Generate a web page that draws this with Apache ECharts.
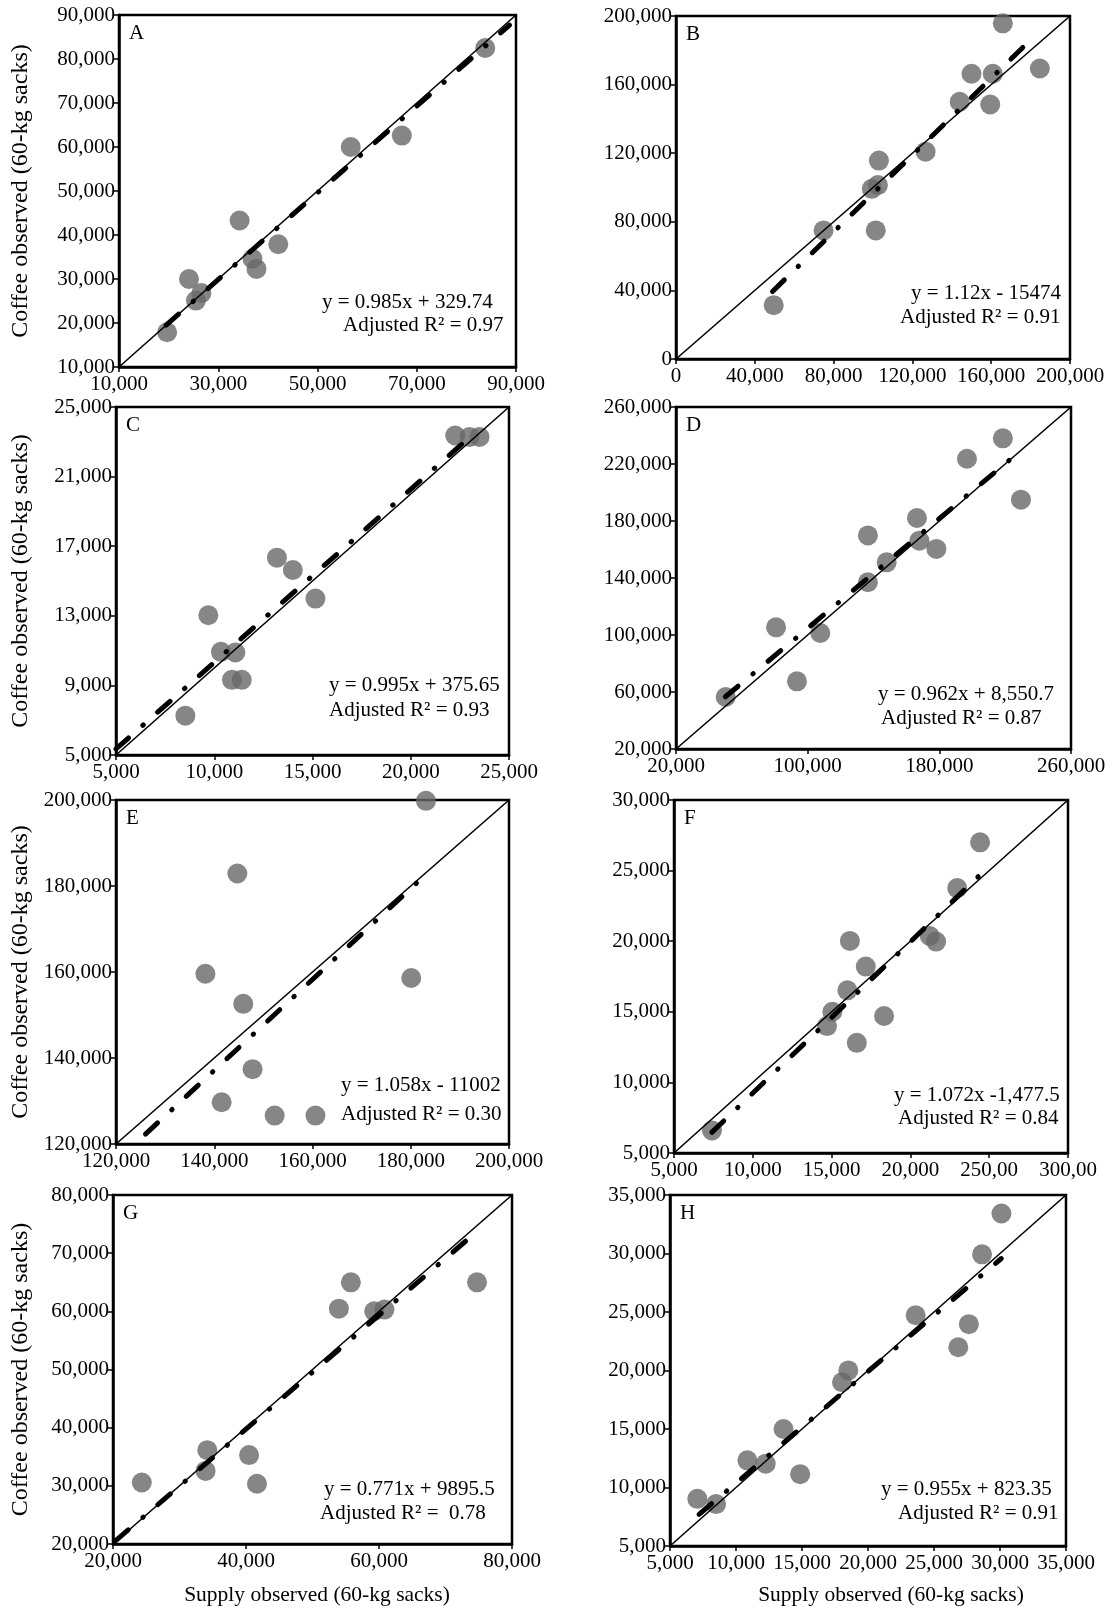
<!DOCTYPE html>
<html>
<head>
<meta charset="utf-8">
<script src="https://cdn.jsdelivr.net/npm/echarts@6/dist/echarts.min.js"></script>
<style>
html,body{margin:0;padding:0;background:#fff;}
#chart{width:1110px;height:1607px;}
</style>
</head>
<body>
<div id="chart"></div>
<script>
// ---------- data ----------
const panelLetters = ['A','B','C','D','E','F','G','H'];

const aX = [19700, 24100, 25500, 26600, 34300, 36900, 37700, 42100, 56700, 67000, 83800];
const aY = [17900, 30000, 25100, 26800, 43300, 34600, 32300, 37900, 60000, 62600, 82500];
const bX = [49600, 74900, 99400, 102500, 103000, 101400, 126700, 144000, 150000, 160800, 159500, 165900, 184700];
const bY = [31400, 75000, 99200, 101400, 115700, 75000, 120900, 150000, 166300, 166300, 148400, 195700, 169400];
const cX = [8530, 9700, 10340, 11075, 10900, 11400, 13190, 14000, 15150, 22260, 22990, 23500];
const cY = [7260, 13030, 10930, 10890, 9320, 9320, 16340, 15630, 13990, 23360, 23280, 23280];
const dX = [50200, 80800, 93500, 107700, 136600, 136600, 148000, 166400, 167900, 178200, 196800, 218600, 229600];
const dY = [56500, 105400, 67500, 101400, 169900, 137000, 151000, 182100, 166200, 160400, 223700, 238000, 195000];
const eX = [138200, 144700, 145900, 141500, 147800, 152300, 160600, 180100, 183100];
const eY = [159600, 182900, 152600, 129700, 137400, 126600, 126600, 158600, 199800];
const fX = [7410, 14710, 15050, 16000, 16160, 16600, 17170, 18330, 21230, 21630, 22970, 24420];
const fY = [6590, 13990, 15000, 16520, 20020, 12800, 18200, 14700, 20370, 19970, 23760, 27000];
const gX = [24330, 33920, 34180, 40460, 41650, 53970, 55770, 59280, 60820, 74740];
const gY = [30580, 32560, 36130, 35280, 30360, 60460, 64990, 60010, 60300, 64990];
const hX = [7070, 8490, 10860, 12250, 13600, 14860, 18030, 18510, 23610, 26840, 27640, 28640, 30110];
const hY = [9030, 8580, 12320, 12040, 15000, 11140, 19000, 20010, 24720, 21990, 23960, 29930, 33420];

// fitted (dash-dot) line end points as drawn
const aFitX = [19500, 88700],  aFitY = [19540, 87700];
const bFitX = [49000, 180000], bFitY = [39400, 186100];
const cFitX = [5000, 22900],   cFitY = [5350, 23160];
const dFitX = [50000, 229000], dFitY = [56650, 228850];
const eFitX = [126000, 183000], eFitY = [122300, 182600];
const fFitX = [7400, 24300],   fFitY = [6460, 24570];
const gFitX = [20400, 74500],  gFitY = [20570, 73500];
const hFitX = [7200, 30100],   hFitY = [7700, 29570];

// axis ticks
const aXTicks = [10000, 30000, 50000, 70000, 90000];
const aYTicks = [10000, 20000, 30000, 40000, 50000, 60000, 70000, 80000, 90000];
const bXTicks = [0, 40000, 80000, 120000, 160000, 200000];
const bYTicks = [0, 40000, 80000, 120000, 160000, 200000];
const cXTicks = [5000, 10000, 15000, 20000, 25000];
const cYTicks = [5000, 9000, 13000, 17000, 21000, 25000];
const dXTicks = [20000, 100000, 180000, 260000];
const dYTicks = [20000, 60000, 100000, 140000, 180000, 220000, 260000];
const eXTicks = [120000, 140000, 160000, 180000, 200000];
const eYTicks = [120000, 140000, 160000, 180000, 200000];
const fXTicks = [5000, 10000, 15000, 20000, 25000, 30000];
const fXTickLabels = ['5,000', '10,000', '15,000', '20,000', '250,00', '300,00'];
const fYTicks = [5000, 10000, 15000, 20000, 25000, 30000];
const gXTicks = [20000, 40000, 60000, 80000];
const gYTicks = [20000, 30000, 40000, 50000, 60000, 70000, 80000];
const hXTicks = [5000, 10000, 15000, 20000, 25000, 30000, 35000];
const hYTicks = [5000, 10000, 15000, 20000, 25000, 30000, 35000];

// equations
const eqLine1 = ['y = 0.985x + 329.74', 'y = 1.12x - 15474', 'y = 0.995x + 375.65', 'y = 0.962x + 8,550.7',
                 'y = 1.058x - 11002', 'y = 1.072x -1,477.5', 'y = 0.771x + 9895.5', 'y = 0.955x + 823.35'];
const eqLine2 = ['Adjusted R\u00b2 = 0.97', 'Adjusted R\u00b2 = 0.91', 'Adjusted R\u00b2 = 0.93', 'Adjusted R\u00b2 = 0.87',
                 'Adjusted R\u00b2 = 0.30', 'Adjusted R\u00b2 = 0.84', 'Adjusted R\u00b2 =  0.78', 'Adjusted R\u00b2 = 0.91'];

const yName = 'Coffee observed (60-kg sacks)';
const xName = 'Supply observed (60-kg sacks)';

// ---------- layout ----------
const FONT = '"Liberation Serif", "Times New Roman", serif';
const grids = [ // left, top, right, bottom (px)
  [119, 15, 516, 367],
  [676, 16, 1070, 359],
  [116, 407, 509, 755],
  [676, 407, 1071, 749],
  [116, 800, 509, 1144],
  [674, 800, 1068, 1153],
  [113, 1195, 512, 1545],
  [670, 1195, 1066, 1547]
];
const yNameGap = [86, 0, 83, 0, 83, 0, 80, 0];
const xNameGap = [0, 0, 0, 0, 0, 0, 40, 38];
const xNameShift = [0, 0, 0, 0, 0, 0, 9, 46];
const eqPos1 = [[322,292],[911,283],[329,675],[878,684],[341,1075],[894,1085],[324,1479],[881,1479]];
const eqPos2 = [[343,315],[900,307],[329,700],[881,708],[341,1104],[898,1108],[320,1503],[898,1503]];

const xs = [aX,bX,cX,dX,eX,fX,gX,hX];
const ys = [aY,bY,cY,dY,eY,fY,gY,hY];
const fitXs = [aFitX,bFitX,cFitX,dFitX,eFitX,fFitX,gFitX,hFitX];
const fitYs = [aFitY,bFitY,cFitY,dFitY,eFitY,fFitY,gFitY,hFitY];
const xTicks = [aXTicks,bXTicks,cXTicks,dXTicks,eXTicks,fXTicks,gXTicks,hXTicks];
const yTicks = [aYTicks,bYTicks,cYTicks,dYTicks,eYTicks,fYTicks,gYTicks,hYTicks];

const fmt = v => Number(v).toLocaleString('en-US');

const option = {
  backgroundColor: '#fff',
  animation: false,
  grid: [], xAxis: [], yAxis: [], series: [], graphic: []
};

for (let i = 0; i < 8; i++) {
  const g = grids[i];
  option.grid.push({
    left: g[0], top: g[1], width: g[2] - g[0], height: g[3] - g[1],
    show: true, borderColor: '#000', borderWidth: 2.5, backgroundColor: 'transparent'
  });
  const xt = xTicks[i], yt = yTicks[i];
  const xmin = xt[0], xmax = xt[xt.length - 1];
  const ymin = yt[0], ymax = yt[yt.length - 1];
  const isF = i === 5;
  option.xAxis.push({
    type: 'value', gridIndex: i, min: xmin, max: xmax,
    splitLine: { show: false },
    axisLine: { show: true, onZero: false, lineStyle: { color: '#000', width: 2.5 } },
    axisTick: { show: true, length: 5, lineStyle: { color: '#000', width: 1.5 }, customValues: xt },
    axisLabel: {
      color: '#000', fontFamily: FONT, fontSize: 21, margin: 7, customValues: xt,
      formatter: isF ? (v => fXTickLabels[fXTicks.indexOf(v)] || fmt(v)) : fmt
    },
    name: (i >= 6) ? xName : '', nameLocation: 'middle', nameGap: xNameGap[i],
    nameTextStyle: { color: '#000', fontFamily: FONT, fontSize: 21.5, padding: [0, 0, 0, xNameShift[i]] }
  });
  option.yAxis.push({
    type: 'value', gridIndex: i, min: ymin, max: ymax,
    splitLine: { show: false },
    axisLine: { show: true, onZero: false, lineStyle: { color: '#000', width: 2.5 } },
    axisTick: { show: true, length: 5, lineStyle: { color: '#000', width: 1.5 }, customValues: yt },
    axisLabel: { color: '#000', fontFamily: FONT, fontSize: 21, margin: 4, customValues: yt, formatter: fmt },
    name: (i % 2 === 0) ? yName : '', nameLocation: 'middle', nameGap: yNameGap[i], nameRotate: 90,
    nameTextStyle: { color: '#000', fontFamily: FONT, fontSize: 24 }
  });
  // 1:1 line
  option.series.push({
    type: 'line', xAxisIndex: i, yAxisIndex: i, symbol: 'none', silent: true, z: 3,
    data: [[xmin, ymin], [xmax, ymax]],
    lineStyle: { color: '#000', width: 1.6 }
  });
  // observations
  option.series.push({
    type: 'scatter', xAxisIndex: i, yAxisIndex: i, clip: false, z: 2,
    symbol: 'circle', symbolSize: 20,
    itemStyle: { color: '#686868' },
    data: xs[i].map((x, k) => [x, ys[i][k]])
  });
  // fitted dash-dot line
  option.series.push({
    type: 'line', xAxisIndex: i, yAxisIndex: i, symbol: 'none', silent: true, z: 4,
    data: fitXs[i].map((x, k) => [x, fitYs[i][k]]),
    lineStyle: { color: '#000', width: 5, type: [16.5, 19.25, 0.5, 19.25], cap: 'round' }
  });
  // panel letter
  option.graphic.push({
    type: 'text', left: g[0] + 10, top: g[1] + 8,
    style: { text: panelLetters[i], font: '21px ' + FONT, fill: '#000' }
  });
  option.graphic.push({
    type: 'text', left: eqPos1[i][0], top: eqPos1[i][1],
    style: { text: eqLine1[i], font: '21px ' + FONT, fill: '#000' }
  });
  option.graphic.push({
    type: 'text', left: eqPos2[i][0], top: eqPos2[i][1],
    style: { text: eqLine2[i], font: '21px ' + FONT, fill: '#000' }
  });
}

const chart = echarts.init(document.getElementById('chart'), null, { renderer: 'canvas' });
chart.setOption(option);
</script>
</body>
</html>
